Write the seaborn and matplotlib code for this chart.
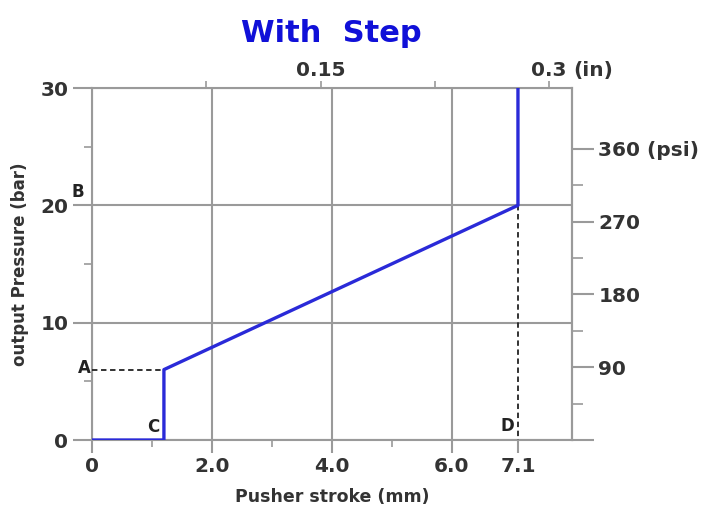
#!/usr/bin/env python3
"""
Pusher stroke vs output pressure, "With Step" curve
"""

import numpy as np
import pandas as pd
import matplotlib
matplotlib.use("Agg")
import matplotlib.pyplot as plt
import seaborn as sns
from matplotlib.ticker import FixedLocator, FixedFormatter

# curve data (mm, bar)
stroke_mm = [0, 1.2, 1.2, 7.1, 7.1]
pressure_bar = [0, 0, 6, 20, 30]

# helper dashed lines
dash_a_x = [0, 1.2]
dash_a_y = [6, 6]
dash_d_x = [7.1, 7.1]
dash_d_y = [20, 0]

# tick values / labels
x_major = [0, 2, 4, 6, 7.1]
x_labels = ["0", "2.0", "4.0", "6.0", "7.1"]
x_minor = [1, 3, 5]
y_major = [0, 10, 20, 30]
y_minor = [5, 15, 25]
in_ticks = [0.075, 0.15, 0.225, 0.3]
in_labels = ["", "0.15", "", "0.3"]
psi_major = [0, 90, 180, 270, 360]
psi_labels = ["", "90", "180", "270", "360 (psi)"]
psi_minor = [45, 135, 225, 315]

# point labels: (text, x, y)
point_labels = [("A", -0.12, 6.1), ("B", -0.23, 21.1), ("C", 1.02, 1.1), ("D", 6.92, 1.2)]

MM_PER_IN = 25.4
PSI_PER_BAR = 14.5038

sns.set_theme(style="white")
plt.rcParams['font.family'] = ['DejaVu Sans']

GRID = "#9a9a9a"
TXT = "#333333"
BLUE = "#2a2ad8"

fig = plt.figure(figsize=(7.07, 5.12), dpi=100)
ax = fig.add_axes([0.130, 0.1406, 0.679, 0.6875])

df = pd.DataFrame({"stroke": stroke_mm, "pressure": pressure_bar})
sns.lineplot(data=df, x="stroke", y="pressure", sort=False, estimator=None,
             errorbar=None, color=BLUE, linewidth=2.4, ax=ax, zorder=4)
sns.lineplot(x=dash_a_x, y=dash_a_y, sort=False, estimator=None, errorbar=None,
             color="#222222", linewidth=1.3, linestyle=(0, (3, 2)), ax=ax, zorder=3)
sns.lineplot(x=dash_d_x, y=dash_d_y, sort=False, estimator=None, errorbar=None,
             color="#222222", linewidth=1.3, linestyle=(0, (3, 2)), ax=ax, zorder=3)

ax.set_xlim(0, 8)
ax.set_ylim(0, 30)

for sp in ax.spines.values():
    sp.set_color(GRID)
    sp.set_linewidth(1.5)

ax.xaxis.set_major_locator(FixedLocator(x_major))
ax.xaxis.set_major_formatter(FixedFormatter(x_labels))
ax.xaxis.set_minor_locator(FixedLocator(x_minor))
ax.yaxis.set_major_locator(FixedLocator(y_major))
ax.yaxis.set_minor_locator(FixedLocator(y_minor))

ax.tick_params(axis="x", which="major", direction="out", length=9, width=1.5,
               color=GRID, labelsize=14.5, labelcolor=TXT, pad=3, bottom=True)
ax.tick_params(axis="x", which="minor", direction="out", length=5, width=1.2,
               color=GRID, bottom=True)
ax.tick_params(axis="y", which="major", direction="out", length=14, width=1.5,
               color=GRID, labelsize=14.5, labelcolor=TXT, pad=3, left=True)
ax.tick_params(axis="y", which="minor", direction="out", length=6, width=1.2,
               color=GRID, left=True)
for lab in ax.get_xticklabels() + ax.get_yticklabels():
    lab.set_fontweight("bold")

ax.grid(True, which="major", color=GRID, linewidth=1.5)
ax.get_xgridlines()[-1].set_visible(False)
ax.set_axisbelow(True)

ax.set_xlabel("Pusher stroke (mm)", fontsize=12.5, fontweight="bold",
              color=TXT, labelpad=9)
ax.set_ylabel("output Pressure (bar)", fontsize=12, fontweight="bold",
              color=TXT, labelpad=8)

# top axis in inches
top = ax.secondary_xaxis("top", functions=(lambda v: v / MM_PER_IN,
                                            lambda v: v * MM_PER_IN))
top.xaxis.set_major_locator(FixedLocator(in_ticks))
top.xaxis.set_major_formatter(FixedFormatter(in_labels))
top.tick_params(direction="out", length=5, width=1.2, color=GRID,
                labelsize=14.5, labelcolor=TXT, pad=1)
top.spines["top"].set_visible(False)
for lab in top.get_xticklabels():
    lab.set_fontweight("bold")
ax.annotate("(in)", xy=(in_ticks[-1] * MM_PER_IN, 1),
            xycoords=("data", "axes fraction"), xytext=(17, 6),
            textcoords="offset points", ha="left", va="bottom",
            fontsize=14.5, fontweight="bold", color=TXT)

# right axis in psi
right = ax.secondary_yaxis("right", functions=(lambda v: v * PSI_PER_BAR,
                                                lambda v: v / PSI_PER_BAR))
right.yaxis.set_major_locator(FixedLocator(psi_major))
right.yaxis.set_major_formatter(FixedFormatter(psi_labels))
right.yaxis.set_minor_locator(FixedLocator(psi_minor))
right.tick_params(which="major", direction="out", length=16, width=1.5,
                  color=GRID, labelsize=14.5, labelcolor=TXT, pad=3)
right.tick_params(which="minor", direction="out", length=8, width=1.2,
                  color=GRID)
right.spines["right"].set_color(GRID)
right.spines["right"].set_linewidth(1.5)
for lab in right.get_yticklabels():
    lab.set_fontweight("bold")

for txt, px, py in point_labels:
    ax.text(px, py, txt, fontsize=12, fontweight="bold", color="#222222",
            ha="center", va="center", zorder=5, clip_on=False)

fig.suptitle("With  Step", x=0.468, y=0.962, fontsize=22,
             fontweight="bold", color="#1010d8")

fig.savefig("out.png", dpi=100)
plt.close(fig)
